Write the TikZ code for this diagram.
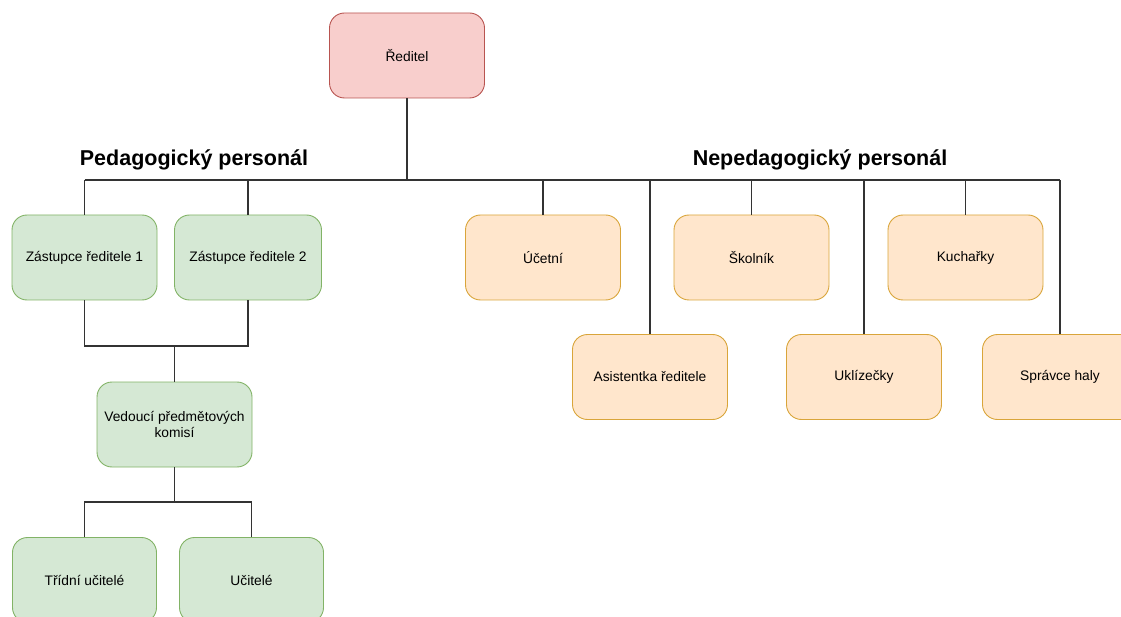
\documentclass[tikz,border=0pt]{standalone}
\usepackage{fontspec}
\setmainfont{Liberation Sans}
\usetikzlibrary{positioning}
\definecolor{BossFill}{HTML}{F8CECC}
\definecolor{BossLine}{HTML}{B85450}
\definecolor{PedFill}{HTML}{D5E8D4}
\definecolor{PedLine}{HTML}{82B366}
\definecolor{StaffFill}{HTML}{FFE6CC}
\definecolor{StaffLine}{HTML}{D9A53A}
\definecolor{WireGray}{HTML}{333333}

\tikzset{
  role/.style={draw, rounded corners=15pt, minimum width=155pt, minimum height=85pt,
    align=center, line width=0.9pt, font=\fontsize{13.8}{16.5}\selectfont},
  boss/.style={role, fill=BossFill, draw=BossLine},
  teach/.style={role, fill=PedFill, draw=PedLine},
  staff/.style={role, fill=StaffFill, draw=StaffLine},
  wire/.style={WireGray, line width=1.1pt},
  group/.style={font=\bfseries\fontsize{21.5}{24}\selectfont}
}

\begin{document}
\begin{tikzpicture}[x=1pt, y=-1pt]
    \useasboundingbox (0,0) rectangle (1121,617);
    \begin{scope}
      \clip (0,0) rectangle (1121,617);

      % Director
      \node[boss] (reditel) at (407,55.5) {Ředitel};

      % Group titles
      \node[group] (pedTitle) at (194,160) {Pedagogický personál};
      \node[group] (nepedTitle) at (820,160) {Nepedagogický personál};

      % Bus
      \coordinate (busL) at (84.5,180);
      \coordinate (busR) at (1060,180);
      \draw[wire] (reditel.south) -- (reditel.south |- busL);
      \draw[wire] (busL) -- (busR);

      % Pedagogical staff
      \node[teach, minimum width=145pt] (zast1) at (84.5,257.5) {Zástupce ředitele 1};
      \node[teach, minimum width=147pt] (zast2) at (248,257.5) {Zástupce ředitele 2};
      \node[teach] (vedouci) at (174.5,424.5) {Vedoucí předmětových\\komisí};
      \node[teach, minimum width=144pt] (tridni) at (84.5,580) {Třídní učitelé};
      \node[teach, minimum width=144pt] (ucitele) at (251.5,580) {Učitelé};

      % Non-pedagogical staff
      \node[staff] (ucetni) at (543,257.5) {Účetní};
      \node[staff] (asist) at (650,377) {Asistentka ředitele};
      \node[staff] (skolnik) at (751.5,257.5) {Školník};
      \node[staff] (uklid) at (864,377) {Uklízečky};
      \node[staff] (kuchar) at (965.5,257.5) {Kuchařky};
      \node[staff] (spravce) at (1060,377) {Správce haly};

      % Drops from the bus
      \foreach \n in {zast1, zast2, ucetni, asist, skolnik, uklid, kuchar, spravce} {
        \draw[wire] (\n.north) -- (\n.north |- busL);
      }

      % Deputies to heads of subject committees
      \coordinate (joinA) at (174.5,346);
      \draw[wire] (zast1.south) |- (joinA) -| (zast2.south);
      \draw[wire] (vedouci.north) -- (joinA);

      % Heads to teachers
      \coordinate (joinB) at (174.5,502);
      \draw[wire] (vedouci.south) -- (joinB);
      \draw[wire] (tridni.north) |- (joinB) -| (ucitele.north);
    \end{scope}
  \end{tikzpicture}
\end{document}
